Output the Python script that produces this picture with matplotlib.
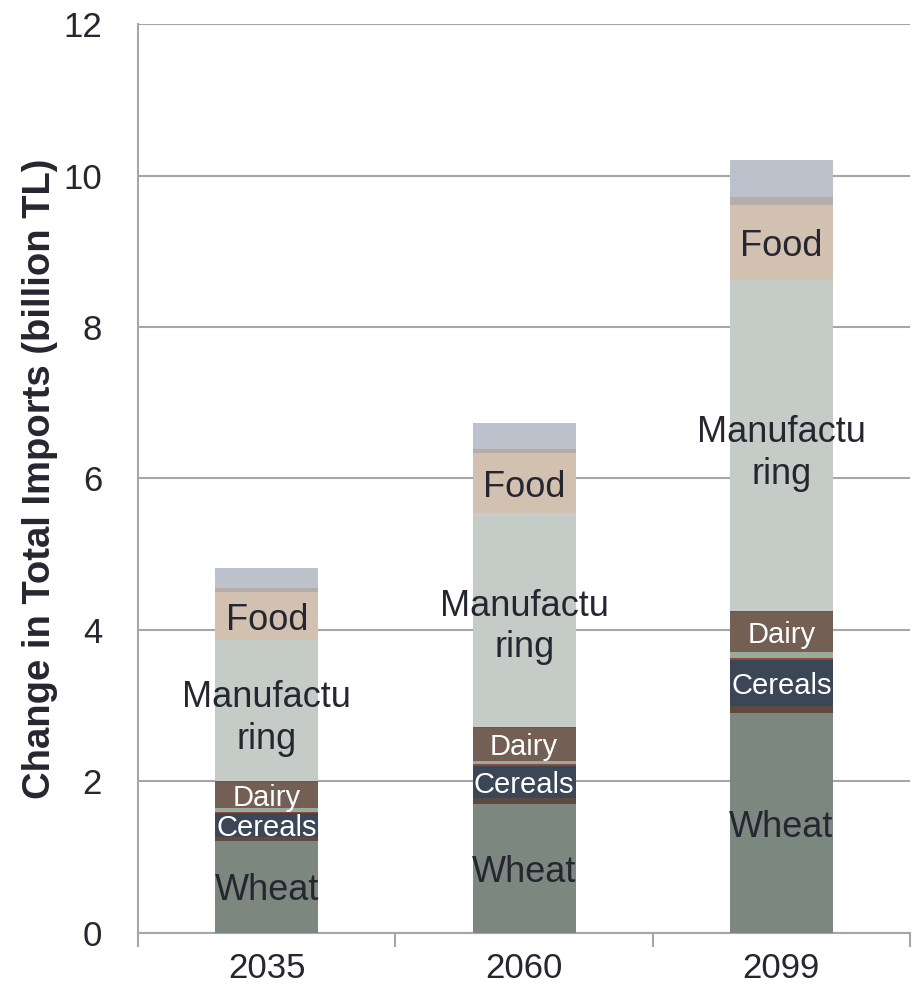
import matplotlib
matplotlib.use("Agg")
import matplotlib.pyplot as plt
import numpy as np

plt.rcParams["font.family"] = ["Liberation Sans", "DejaVu Sans"]

years = ["2035", "2060", "2099"]

# stacked sectors, bottom to top (billion TL)
wheat = [1.215, 1.70, 2.90]
other_grains = [0.05, 0.08, 0.09]
cereals = [0.32, 0.42, 0.62]
oilseeds = [0.015, 0.025, 0.015]
vegetables = [0.05, 0.05, 0.08]
dairy = [0.34, 0.435, 0.53]
meat = [0.012, 0.012, 0.012]
manufacturing = [1.863, 2.828, 4.368]
food = [0.63, 0.78, 1.00]
textiles = [0.055, 0.065, 0.105]
services = [0.27, 0.34, 0.49]

segments = [
    (wheat, "#7b877f", "Wheat", "#262630", 26),
    (other_grains, "#5e4a40", None, None, 0),
    (cereals, "#3b4756", "Cereals", "white", 21),
    (oilseeds, "#8b4a3c", None, None, 0),
    (vegetables, "#9baa9a", None, None, 0),
    (dairy, "#735f53", "Dairy", "white", 21),
    (meat, "#8b4a3c", None, None, 0),
    (manufacturing, "#c5ccc7", "Manufactu\nring", "#262630", 26),
    (food, "#d2c0b1", "Food", "#262630", 26),
    (textiles, "#b5ada8", None, None, 0),
    (services, "#bcc1cb", None, None, 0),
]

fig = plt.figure(figsize=(9.15, 9.92), dpi=100)
ax = fig.add_axes([0.151, 0.0595, 0.8435, 0.9163])

x = np.arange(len(years))
bottom = np.zeros(len(years))
for values, color, label, text_color, size in segments:
    values = np.array(values)
    ax.bar(x, values, width=0.4, bottom=bottom, color=color, zorder=3)
    if label:
        for xi, b, v in zip(x, bottom, values):
            ax.text(xi, b + v / 2, label, ha="center", va="center_baseline",
                    color=text_color, fontsize=size, linespacing=1.25, zorder=4)
    bottom += values

ax.set_ylim(0, 12)
ax.set_xlim(-0.5, 2.5)
ax.set_yticks(range(0, 13, 2))
ax.yaxis.grid(True, color="#a6a6a6", linewidth=1.5, zorder=0)
ax.tick_params(axis="y", length=0, labelsize=25, labelcolor="#262630", pad=26)

ax.set_xticks(x)
ax.set_xticklabels(years)
ax.tick_params(axis="x", which="major", length=0, labelsize=25,
               labelcolor="#262630", pad=14)
ax.set_xticks([-0.5, 0.5, 1.5, 2.5], minor=True)
ax.tick_params(axis="x", which="minor", length=10, width=1.5, color="#a6a6a6")

for side in ["top", "right"]:
    ax.spines[side].set_visible(False)
for side in ["left", "bottom"]:
    ax.spines[side].set_color("#a6a6a6")
    ax.spines[side].set_linewidth(1.5)

ax.set_ylabel("Change in Total Imports (billion TL)", fontsize=27.5,
              fontweight="bold", color="#262630", labelpad=4)

fig.savefig("out.png", dpi=100)
